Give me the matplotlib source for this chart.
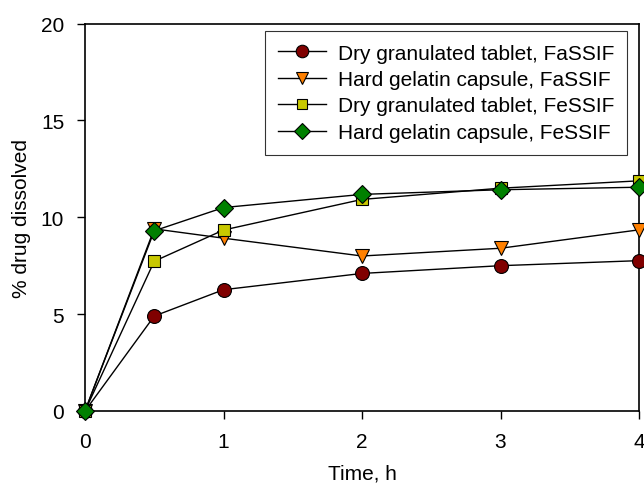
import matplotlib
matplotlib.use("Agg")
import matplotlib.pyplot as plt

plt.rcParams['font.family'] = ['Liberation Sans', 'DejaVu Sans']

time_h = [0, 0.5, 1, 2, 3, 4]
dry_fassif = [0, 4.9, 6.26, 7.1, 7.5, 7.76]
hard_fassif = [0, 9.4, 8.92, 8.0, 8.4, 9.35]
dry_fessif = [0, 7.73, 9.34, 10.92, 11.5, 11.88]
hard_fessif = [0, 9.3, 10.5, 11.18, 11.42, 11.55]

labels = ["Dry granulated tablet, FaSSIF", "Hard gelatin capsule, FaSSIF",
          "Dry granulated tablet, FeSSIF", "Hard gelatin capsule, FeSSIF"]
series = [dry_fassif, hard_fassif, dry_fessif, hard_fessif]
markers = ['o', 'v', 's', 'D']
colors = ['#800000', '#FF8000', '#C8C800', '#008000']
sizes = [10, 10, 8.5, 9]

fig = plt.figure(figsize=(6.44, 4.89), dpi=100)
ax = fig.add_axes([85/644, 1-412/489, (639-85)/644, (412-24.5)/489])

for y, m, c, lab, s in zip(series, markers, colors, labels, sizes):
    ax.plot(time_h, y, color='black', lw=1, marker=m, markersize=s,
            markerfacecolor=c, markeredgecolor='black', markeredgewidth=0.8,
            label=lab, clip_on=False, zorder=3)

ax.set_xlim(0, 4)
ax.set_ylim(0, 20)
ax.set_xticks([0, 1, 2, 3, 4])
ax.set_yticks([0, 5, 10, 15, 20])
ax.tick_params(direction='out', length=6, width=1, labelsize=15, pad=9,
               top=False, right=False)
for sp in ax.spines.values():
    sp.set_linewidth(1.2)
ax.set_xlabel("Time, h", fontsize=15, labelpad=9)
ax.set_ylabel("% drug dissolved", fontsize=15, labelpad=7)

leg = ax.legend(loc='upper right', bbox_to_anchor=(1 - 12/554, 1 - 7.5/387.5),
                fontsize=15, frameon=True, fancybox=False, edgecolor='black',
                borderaxespad=0, handlelength=2.3, labelspacing=0.36,
                borderpad=0.6, handletextpad=0.6, markerscale=0.9)
leg.get_frame().set_linewidth(0.8)

fig.savefig("out.png", dpi=100)
